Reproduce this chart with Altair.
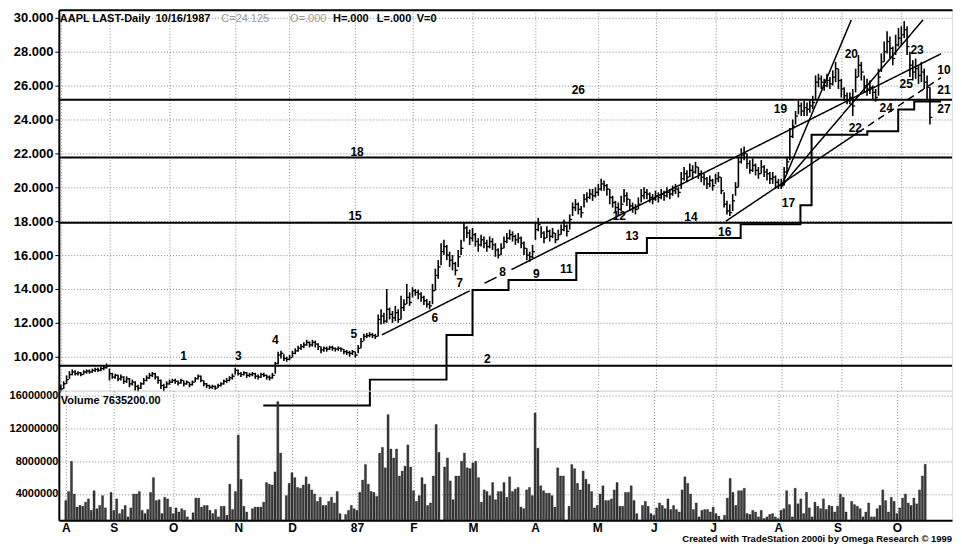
import altair as alt
import pandas as pd

FONT = "Liberation Sans"

# ---------------- axis categories ----------------
MONTH_START = [0, 17, 38, 61, 80, 103, 123, 144, 166, 188, 208, 229, 252, 273, 294]
MONTH_LABEL = ["A", "S", "O", "N", "D", "87", "F", "M", "A", "M", "J", "J", "A", "S", "O"]
PRICE_TICKS = [10, 12, 14, 16, 18, 20, 22, 24, 26, 28, 30]
VOLUME_TICKS = [4000000, 8000000, 12000000, 16000000]

# ---------------- daily bars (high / low / close), per month ----------------
close_aug86 = [8.10, 8.40, 8.65, 8.95, 9.10, 9.00, 9.05, 8.95, 9.10, 9.15, 9.10, 9.20, 9.25, 9.20, 9.30, 9.35, 9.45]
high_aug86 = [8.35, 8.55, 8.90, 9.15, 9.25, 9.20, 9.15, 9.10, 9.20, 9.25, 9.25, 9.30, 9.35, 9.35, 9.40, 9.50, 9.60]
low_aug86 = [7.90, 8.10, 8.40, 8.70, 8.90, 8.90, 8.90, 8.85, 8.95, 9.00, 9.00, 9.05, 9.10, 9.10, 9.15, 9.20, 9.30]
vol_aug86 = [3.2, 4.3, 8.0, 4.0, 2.4, 2.6, 2.5, 3.0, 3.4, 2.0, 4.4, 2.2, 2.6, 3.8, 2.3, 0.8, 4.2]

close_sep86 = [9.00, 8.80, 8.90, 8.70, 8.80, 8.55, 8.70, 8.40, 8.50, 8.25, 8.15, 8.40, 8.60, 8.75, 8.90, 9.00, 8.80, 8.60, 8.30, 8.20, 8.40]
high_sep86 = [9.30, 9.05, 9.00, 8.95, 8.95, 8.85, 8.85, 8.75, 8.65, 8.55, 8.35, 8.50, 8.75, 8.90, 9.05, 9.10, 9.05, 8.85, 8.65, 8.40, 8.55]
low_sep86 = [8.60, 8.70, 8.70, 8.55, 8.60, 8.40, 8.45, 8.20, 8.30, 8.00, 7.95, 8.10, 8.35, 8.55, 8.70, 8.80, 8.65, 8.40, 8.10, 7.95, 8.15]
vol_sep86 = [2.0, 3.4, 1.6, 2.1, 2.6, 1.2, 2.3, 4.0, 4.0, 4.3, 2.0, 1.6, 2.1, 4.2, 6.0, 3.2, 3.3, 1.6, 3.6, 3.4, 2.4]

close_oct86 = [8.50, 8.60, 8.55, 8.45, 8.60, 8.40, 8.50, 8.35, 8.50, 8.70, 8.85, 8.60, 8.40, 8.30, 8.20, 8.25, 8.15, 8.30, 8.40, 8.55, 8.60, 8.75, 8.85]
high_oct86 = [8.65, 8.70, 8.70, 8.60, 8.70, 8.60, 8.60, 8.50, 8.60, 8.80, 8.95, 8.90, 8.60, 8.45, 8.35, 8.35, 8.30, 8.40, 8.50, 8.65, 8.75, 8.85, 9.00]
low_oct86 = [8.35, 8.45, 8.40, 8.30, 8.40, 8.25, 8.35, 8.20, 8.30, 8.50, 8.65, 8.50, 8.25, 8.15, 8.10, 8.10, 8.05, 8.15, 8.25, 8.35, 8.45, 8.55, 8.65]
vol_oct86 = [1.6, 2.3, 1.8, 2.2, 2.0, 1.2, 0.8, 1.7, 3.5, 3.5, 2.4, 2.6, 2.6, 2.0, 1.6, 2.1, 1.2, 2.5, 2.5, 1.4, 5.2, 2.1, 4.3]

close_nov86 = [9.20, 9.00, 8.95, 9.05, 8.90, 8.95, 9.00, 8.85, 8.80, 8.95, 8.90, 8.80, 8.75, 8.90, 9.60, 10.10, 10.20, 9.90, 9.85]
high_nov86 = [9.35, 9.25, 9.10, 9.15, 9.10, 9.05, 9.10, 9.05, 8.95, 9.05, 9.05, 8.95, 8.90, 9.05, 9.70, 10.30, 10.35, 10.15, 10.00]
low_nov86 = [8.95, 8.90, 8.80, 8.90, 8.75, 8.80, 8.85, 8.70, 8.65, 8.75, 8.80, 8.65, 8.60, 8.70, 9.00, 9.55, 9.90, 9.75, 9.70]
vol_nov86 = [11.2, 5.8, 2.5, 1.8, 0.8, 2.2, 2.4, 2.4, 2.4, 3.0, 5.4, 5.2, 5.1, 6.7, 15.3, 9.0, 0.8, 3.8, 5.3]

close_dec86 = [9.95, 10.20, 10.35, 10.50, 10.60, 10.70, 10.85, 10.70, 10.85, 10.75, 10.60, 10.40, 10.50, 10.45, 10.55, 10.50, 10.45, 10.50, 10.45, 10.30, 10.25, 10.20, 10.30]
high_dec86 = [10.10, 10.35, 10.50, 10.65, 10.75, 10.85, 11.00, 10.90, 11.00, 10.95, 10.80, 10.60, 10.60, 10.60, 10.65, 10.65, 10.55, 10.60, 10.55, 10.45, 10.40, 10.35, 10.40]
low_dec86 = [9.80, 9.95, 10.15, 10.30, 10.40, 10.50, 10.65, 10.55, 10.60, 10.55, 10.40, 10.20, 10.30, 10.30, 10.40, 10.35, 10.30, 10.35, 10.30, 10.15, 10.10, 10.00, 10.10]
vol_dec86 = [6.6, 6.0, 4.8, 4.7, 5.1, 6.1, 5.2, 4.5, 4.0, 3.1, 3.6, 2.6, 2.6, 3.1, 3.6, 2.9, 4.3, 1.6, 0.8, 1.5, 2.0, 2.6, 2.2]

close_jan87 = [10.10, 10.50, 10.90, 11.20, 11.25, 11.30, 11.25, 11.20, 12.20, 12.40, 12.10, 12.80, 12.50, 12.30, 12.60, 12.20, 12.90, 13.10, 13.50, 13.20]
high_jan87 = [10.30, 10.70, 11.10, 11.35, 11.40, 11.45, 11.40, 11.35, 12.50, 12.80, 12.60, 14.00, 12.90, 12.70, 13.00, 12.80, 13.60, 13.40, 14.30, 13.80]
low_jan87 = [9.95, 10.20, 10.50, 10.95, 11.10, 11.15, 11.10, 11.05, 11.20, 11.90, 11.95, 12.00, 12.20, 12.00, 12.10, 12.00, 12.20, 12.70, 13.10, 13.00]
vol_jan87 = [2.0, 4.2, 5.7, 7.6, 5.2, 4.3, 4.2, 3.7, 9.0, 9.7, 7.2, 13.7, 9.5, 8.4, 9.5, 6.2, 6.8, 7.4, 10.0, 7.3]

close_feb87 = [13.90, 13.80, 13.70, 13.50, 13.30, 13.10, 13.00, 13.90, 14.80, 15.30, 16.20, 16.50, 16.00, 15.70, 15.50, 15.10, 15.90, 16.40, 17.60, 17.30, 17.00]
high_feb87 = [14.10, 14.00, 13.95, 13.80, 13.60, 13.40, 13.30, 14.30, 15.20, 15.70, 16.70, 16.90, 16.60, 16.20, 16.00, 15.60, 16.30, 16.90, 17.90, 17.70, 17.50]
low_feb87 = [13.50, 13.60, 13.40, 13.25, 13.05, 12.90, 12.80, 13.10, 13.90, 14.60, 15.40, 16.00, 15.70, 15.30, 15.10, 14.80, 15.30, 16.00, 16.80, 17.00, 16.60]
vol_feb87 = [4.4, 3.1, 3.8, 6.0, 5.2, 2.6, 2.9, 6.2, 12.5, 9.1, 0.8, 7.3, 8.4, 5.6, 3.3, 6.2, 6.2, 8.0, 9.0, 7.2, 7.1]

close_mar87 = [17.20, 16.80, 16.60, 16.90, 16.70, 16.50, 16.80, 16.60, 16.30, 16.00, 16.40, 16.80, 17.00, 17.20, 17.10, 16.90, 17.00, 16.70, 16.40, 16.00, 15.90, 16.20]
high_mar87 = [17.60, 17.30, 17.00, 17.20, 17.10, 16.90, 17.10, 17.00, 16.70, 16.40, 16.70, 17.10, 17.30, 17.50, 17.40, 17.20, 17.30, 17.10, 16.80, 16.40, 16.20, 16.60]
low_mar87 = [16.80, 16.50, 16.20, 16.50, 16.40, 16.20, 16.40, 16.30, 15.90, 15.80, 16.00, 16.40, 16.70, 16.90, 16.80, 16.60, 16.70, 16.40, 16.00, 15.70, 15.60, 15.80]
vol_mar87 = [7.8, 8.0, 6.0, 3.0, 4.5, 4.3, 3.8, 5.4, 3.3, 4.3, 4.3, 5.4, 3.6, 6.1, 4.3, 4.6, 4.8, 2.4, 2.2, 4.5, 4.8, 3.8]

close_apr87 = [17.50, 17.80, 17.30, 17.00, 17.40, 17.10, 17.30, 16.90, 17.20, 17.50, 17.70, 17.40, 18.10, 18.80, 19.00, 18.70, 18.50, 19.30, 19.40, 19.60, 19.50, 19.70]
high_apr87 = [17.90, 18.20, 17.70, 17.40, 17.70, 17.50, 17.60, 17.30, 17.50, 17.80, 18.10, 17.80, 18.40, 19.10, 19.30, 19.10, 18.90, 19.60, 19.70, 19.90, 19.90, 20.00]
low_apr87 = [16.90, 17.40, 17.00, 16.70, 17.00, 16.80, 17.00, 16.70, 16.90, 17.20, 17.40, 17.10, 17.50, 18.30, 18.60, 18.40, 18.20, 18.80, 19.10, 19.30, 19.20, 19.40]
vol_apr87 = [13.9, 9.6, 5.0, 4.4, 4.1, 4.1, 3.8, 2.4, 7.2, 6.2, 6.2, 0.8, 2.5, 7.6, 7.1, 5.3, 4.5, 6.8, 5.8, 5.2, 4.3, 2.3]

close_may87 = [19.90, 20.20, 20.10, 19.90, 19.40, 19.10, 18.80, 18.70, 19.00, 19.50, 19.30, 18.90, 18.80, 18.70, 19.00, 19.50, 19.70, 19.60, 19.40, 19.30]
high_may87 = [20.20, 20.50, 20.40, 20.20, 19.90, 19.50, 19.20, 19.10, 19.50, 19.90, 19.70, 19.30, 19.10, 19.00, 19.40, 19.90, 20.00, 19.90, 19.70, 19.60]
low_may87 = [19.50, 19.80, 19.80, 19.50, 19.00, 18.80, 18.50, 18.30, 18.60, 19.10, 18.90, 18.60, 18.50, 18.40, 18.70, 19.10, 19.30, 19.30, 19.10, 19.00]
vol_may87 = [2.6, 4.0, 5.0, 3.2, 3.2, 3.4, 4.5, 5.4, 2.5, 2.5, 4.2, 4.2, 5.0, 3.2, 1.6, 0.8, 2.6, 3.1, 2.5, 1.6]

close_jun87 = [19.50, 19.40, 19.60, 19.50, 19.70, 19.60, 19.80, 19.90, 19.70, 20.50, 20.80, 20.60, 21.00, 20.90, 21.20, 20.80, 20.60, 20.50, 20.20, 20.40, 20.10]
high_jun87 = [19.80, 19.70, 19.90, 19.80, 20.00, 19.90, 20.10, 20.20, 20.00, 20.90, 21.20, 21.00, 21.40, 21.30, 21.50, 21.20, 21.00, 20.80, 20.60, 20.70, 20.50]
low_jun87 = [19.20, 19.10, 19.30, 19.20, 19.40, 19.30, 19.50, 19.60, 19.40, 19.90, 20.40, 20.30, 20.60, 20.50, 20.80, 20.50, 20.30, 20.10, 19.90, 20.00, 19.80]
vol_jun87 = [1.4, 2.3, 2.9, 2.6, 2.2, 3.4, 2.1, 2.6, 2.1, 1.8, 4.5, 6.1, 5.3, 4.0, 2.1, 2.9, 1.2, 2.0, 2.1, 2.1, 1.8]

close_jul87 = [20.50, 20.60, 19.80, 19.00, 18.60, 18.50, 19.20, 20.00, 21.50, 21.90, 22.00, 21.40, 21.00, 21.30, 21.00, 20.80, 21.20, 20.90, 20.80, 20.50, 20.60, 20.30, 20.10]
high_jul87 = [20.80, 20.90, 20.60, 19.70, 19.20, 19.00, 19.60, 20.30, 21.80, 22.30, 22.40, 22.00, 21.60, 21.70, 21.40, 21.20, 21.60, 21.30, 21.10, 20.90, 20.90, 20.70, 20.50]
low_jul87 = [20.20, 20.30, 19.60, 18.80, 18.40, 18.30, 18.60, 19.50, 20.00, 21.40, 21.60, 21.10, 20.80, 20.90, 20.70, 20.50, 20.80, 20.60, 20.40, 20.20, 20.20, 19.90, 19.90]
vol_jul87 = [2.4, 1.6, 1.3, 0.8, 1.4, 3.5, 5.9, 4.2, 2.6, 4.4, 4.4, 4.7, 1.6, 1.5, 2.0, 1.8, 1.2, 2.0, 1.0, 1.2, 1.5, 1.6, 1.2]

close_aug87 = [20.10, 20.90, 21.50, 23.00, 23.60, 24.20, 24.80, 24.50, 24.70, 24.60, 24.80, 25.00, 26.20, 26.40, 26.20, 26.00, 26.30, 26.10, 26.50, 27.00, 26.30]
high_aug87 = [20.50, 21.20, 21.80, 23.50, 24.00, 24.50, 25.10, 25.00, 25.10, 25.00, 25.20, 25.40, 26.60, 26.70, 26.60, 26.40, 26.70, 26.50, 26.90, 27.40, 27.00]
low_aug87 = [19.90, 20.10, 20.80, 21.60, 22.90, 23.70, 24.30, 24.20, 24.20, 24.20, 24.40, 24.60, 25.20, 25.90, 25.80, 25.70, 25.90, 25.80, 26.00, 26.20, 25.80]
vol_aug87 = [1.0, 2.0, 2.2, 4.4, 2.7, 1.2, 4.7, 2.8, 3.4, 1.6, 4.2, 2.3, 1.2, 3.0, 2.5, 2.2, 3.4, 2.1, 2.6, 2.5, 1.8]

close_sep87 = [25.80, 25.40, 25.10, 25.30, 24.80, 26.50, 27.20, 26.80, 26.00, 25.80, 25.90, 25.60, 25.30, 26.50, 27.40, 28.00, 28.60, 28.20, 27.60, 28.40, 28.80]
high_sep87 = [26.40, 25.90, 25.60, 25.60, 25.80, 27.00, 27.80, 27.40, 26.60, 26.40, 26.30, 26.00, 25.80, 27.00, 27.90, 28.60, 29.20, 28.90, 28.30, 29.00, 29.40]
low_sep87 = [25.30, 25.10, 24.90, 24.90, 24.20, 25.60, 26.50, 26.30, 25.60, 25.40, 25.50, 25.20, 25.05, 25.40, 26.80, 27.40, 27.90, 27.60, 27.20, 27.80, 28.30]
vol_sep87 = [2.5, 4.0, 3.6, 1.8, 0.8, 3.1, 2.7, 2.5, 2.2, 1.2, 1.8, 2.9, 1.2, 1.2, 2.2, 2.6, 4.5, 3.2, 1.8, 3.6, 3.1]

close_oct87 = [29.00, 29.30, 28.30, 27.20, 26.80, 27.00, 26.60, 26.80, 26.20, 25.90, 24.125]
high_oct87 = [29.50, 29.80, 29.50, 28.00, 27.50, 27.60, 27.20, 27.40, 27.00, 26.60, 25.90]
low_oct87 = [28.40, 28.80, 27.80, 26.50, 26.30, 26.40, 26.10, 26.20, 25.80, 25.20, 23.70]
vol_oct87 = [1.6, 2.3, 3.5, 4.0, 2.9, 2.6, 3.5, 2.8, 4.5, 6.2, 7.6352]

MONTHS = [
    (close_aug86, high_aug86, low_aug86, vol_aug86),
    (close_sep86, high_sep86, low_sep86, vol_sep86),
    (close_oct86, high_oct86, low_oct86, vol_oct86),
    (close_nov86, high_nov86, low_nov86, vol_nov86),
    (close_dec86, high_dec86, low_dec86, vol_dec86),
    (close_jan87, high_jan87, low_jan87, vol_jan87),
    (close_feb87, high_feb87, low_feb87, vol_feb87),
    (close_mar87, high_mar87, low_mar87, vol_mar87),
    (close_apr87, high_apr87, low_apr87, vol_apr87),
    (close_may87, high_may87, low_may87, vol_may87),
    (close_jun87, high_jun87, low_jun87, vol_jun87),
    (close_jul87, high_jul87, low_jul87, vol_jul87),
    (close_aug87, high_aug87, low_aug87, vol_aug87),
    (close_sep87, high_sep87, low_sep87, vol_sep87),
    (close_oct87, high_oct87, low_oct87, vol_oct87),
]
VOL_BASE = 790000  # bottom of the volume scale

# ---------------- drawn studies ----------------
HLINE_LEVEL = [25.16, 21.76, 17.90, 9.47]

STOP_X = [70.8, 108.1, 134.9, 144.0, 156.6, 180.3, 205.0, 237.8, 258.7, 262.6, 282.1, 292.9, 298.5, 307.9]
STOP_P = [7.12, 8.65, 11.29, 13.94, 14.53, 16.12, 17.00, 17.82, 18.94, 23.10, 23.30, 24.59, 25.06, 25.06]

TREND_X0 = [112.3, 148.2, 157.6, 232.6, 278.9, 252.1, 252.1]
TREND_P0 = [11.29, 14.34, 15.14, 18.00, 23.24, 20.06, 20.06]
TREND_X1 = [143.0, 152.4, 307.9, 278.9, 307.9, 276.5, 301.6]
TREND_P1 = [13.89, 14.69, 27.88, 23.24, 26.47, 29.88, 29.88]
TREND_STYLE = ["solid", "solid", "solid", "solid", "dash", "solid", "solid"]

ANN_TEXT = [str(k) for k in range(1, 28)]
ANN_X = [42.9, 149.2, 62.1, 75.0, 102.5, 130.8, 139.5, 154.5, 166.3, 308.9, 176.8, 195.3, 199.8, 220.4,
         102.9, 232.2, 254.5, 103.6, 251.7, 276.5, 308.9, 277.9, 299.5, 288.7, 295.7, 181.0, 308.9]
ANN_P = [10.06, 9.88, 10.06, 11.00, 11.35, 12.29, 14.35, 15.00, 14.88, 26.94, 15.18, 18.29, 17.12, 18.24,
         18.29, 17.35, 19.06, 22.06, 24.59, 27.88, 25.71, 23.47, 28.12, 24.65, 26.12, 25.76, 24.59]

HEADER_TEXT = ["AAPL LAST-Daily", "10/16/1987", "C=24.125", "O=.000", "H=.000", "L=.000", "V=0"]
HEADER_GRAY = [False, False, True, True, False, False, False]
VOLUME_TEXT = ["Volume", "7635200.00"]
FOOTER_TEXT = "Created with TradeStation 2000i by Omega Research \u00a9 1999"

# ---------------- layout ----------------
W = 896
HP = 382
HV = 130
HEADER_PX = [1, 97, 163, 232, 275, 319, 359]
VOLUME_PX = [2, 44]
GRID = "#8a8a8a"

# ---------------- tables ----------------
rows = []
k = 0
for c_list, h_list, l_list, v_list in MONTHS:
    for c, h, l, v in zip(c_list, h_list, l_list, v_list):
        rows.append({"i": k, "close": c, "high": h, "low": l, "vol": v * 1_000_000})
        k += 1
bars = pd.DataFrame(rows)
bars["i2"] = bars["i"] + 0.85
bars["base"] = VOL_BASE

hl_df = pd.DataFrame({"level": HLINE_LEVEL})
stop_df = pd.DataFrame({"x": STOP_X, "p": STOP_P})
trend_rows = []
for n, (x0, p0, x1, p1, st) in enumerate(zip(TREND_X0, TREND_P0, TREND_X1, TREND_P1, TREND_STYLE)):
    trend_rows.append({"seg": n, "x": x0, "p": p0, "style": st})
    trend_rows.append({"seg": n, "x": x1, "p": p1, "style": st})
trend_df = pd.DataFrame(trend_rows)
ann_df = pd.DataFrame({"t": ANN_TEXT, "x": ANN_X, "p": ANN_P})

# ---------------- scales / axes ----------------
xscale = alt.Scale(domain=[-0.7, 311.72], nice=False, zero=False)
pscale = alt.Scale(domain=[8.0, 30.47], nice=False, zero=False)
vscale = alt.Scale(domain=[VOL_BASE, 16640000], nice=False, zero=False)

x_top_axis = alt.Axis(orient="top", values=MONTH_START, labels=False, ticks=False, domainColor="black",
                      domainWidth=2, grid=True, gridColor=GRID, gridDash=[1, 2], gridWidth=1, title=None)
p_axis = alt.Axis(values=PRICE_TICKS, format=".3f", labelFont=FONT, labelFontSize=13, labelFontWeight="bold",
                  labelColor="black", tickColor="black", tickSize=4, labelPadding=2, domainColor="black",
                  domainWidth=2, grid=True, gridColor=GRID, gridDash=[1, 2], gridWidth=1, title=None)

label_expr = ("[" + ",".join("'" + s + "'" for s in MONTH_LABEL) + "][indexof(["
              + ",".join(str(v) for v in MONTH_START) + "], datum.value)]")
x_bot_axis = alt.Axis(orient="bottom", values=MONTH_START, labelExpr=label_expr, labelFont=FONT,
                      labelFontSize=12, labelFontWeight="bold", labelColor="black", ticks=False, tickSize=0,
                      labelPadding=2, labelFlush=False, labelOverlap=False, domainColor="black", domainWidth=2,
                      grid=True, gridColor=GRID, gridDash=[1, 2], gridWidth=1, title=None)
v_axis = alt.Axis(values=VOLUME_TICKS, format="d", labelFont=FONT, labelFontSize=11, labelFontWeight="bold",
                  labelColor="black", ticks=False, tickSize=0, labelPadding=1, domainColor="black",
                  domainWidth=2, grid=True, gridColor=GRID, gridDash=[1, 2], gridWidth=1, title=None)


def PX(field):
    return alt.X(field, type="quantitative", scale=xscale, axis=x_top_axis)


def PY(field):
    return alt.Y(field, type="quantitative", scale=pscale, axis=p_axis)


# ---------------- price panel ----------------
hlines = alt.Chart(hl_df).mark_rule(color="black", strokeWidth=2).encode(y=PY("level"))

stops = alt.Chart(stop_df).mark_line(color="black", strokeWidth=2, interpolate="step-after").encode(
    x=PX("x"), y=PY("p"))

trends = alt.Chart(trend_df).mark_line(color="black", strokeWidth=1.5).encode(
    x=PX("x"), y=PY("p"), detail="seg:N",
    strokeDash=alt.StrokeDash("style:N", scale=alt.Scale(domain=["solid", "dash"], range=[[1, 0], [7, 5]]),
                              legend=None))

hl_bars = alt.Chart(bars).mark_rule(color="black", strokeWidth=1.6).encode(
    x=PX("i"), y=PY("low"), y2="high:Q")

close_ticks = alt.Chart(bars).mark_rule(color="black", strokeWidth=1.3).encode(
    x=PX("i"), x2="i2:Q", y=PY("close"))

ann = alt.Chart(ann_df).mark_text(font=FONT, fontSize=12, fontWeight="bold", color="black",
                                  align="center", baseline="middle").encode(
    x=PX("x"), y=PY("p"), text="t:N")

header_layers = []
for txt, gray, px in zip(HEADER_TEXT, HEADER_GRAY, HEADER_PX):
    header_layers.append(
        alt.Chart(pd.DataFrame({"t": [txt]})).mark_text(
            font=FONT, fontSize=11, fontWeight="normal" if gray else "bold",
            color="#9a9a9a" if gray else "black", align="left", baseline="top").encode(
            text="t:N", x=alt.value(px), y=alt.value(3)))

price = alt.layer(hlines, stops, trends, hl_bars, close_ticks, ann, *header_layers).properties(
    width=W, height=HP)

# ---------------- volume panel ----------------
vol_bars = alt.Chart(bars).mark_bar(color="#3a3a3a", size=2.1, stroke="black", strokeWidth=0.3).encode(
    x=alt.X("i:Q", scale=xscale, axis=x_bot_axis),
    y=alt.Y("vol:Q", scale=vscale, axis=v_axis),
    y2="base:Q")

vol_text = []
for txt, px in zip(VOLUME_TEXT, VOLUME_PX):
    vol_text.append(
        alt.Chart(pd.DataFrame({"t": [txt]})).mark_text(
            font=FONT, fontSize=11, fontWeight="bold", color="black", align="left", baseline="middle").encode(
            text="t:N", x=alt.value(px), y=alt.value(10)))

footer = alt.Chart(pd.DataFrame({"t": [FOOTER_TEXT]})).mark_text(
    font=FONT, fontSize=9.5, fontWeight="bold", color="black", align="right", baseline="middle").encode(
    text="t:N", x=alt.value(W), y=alt.value(HV + 19))

volume = alt.layer(vol_bars, *vol_text, footer).properties(width=W, height=HV)

chart = alt.vconcat(price, volume, spacing=0, bounds="flush").properties(padding=0).configure_view(
    stroke=None).configure(background="white")

chart.save("out.html", embed_options={"renderer": "svg", "actions": False})
